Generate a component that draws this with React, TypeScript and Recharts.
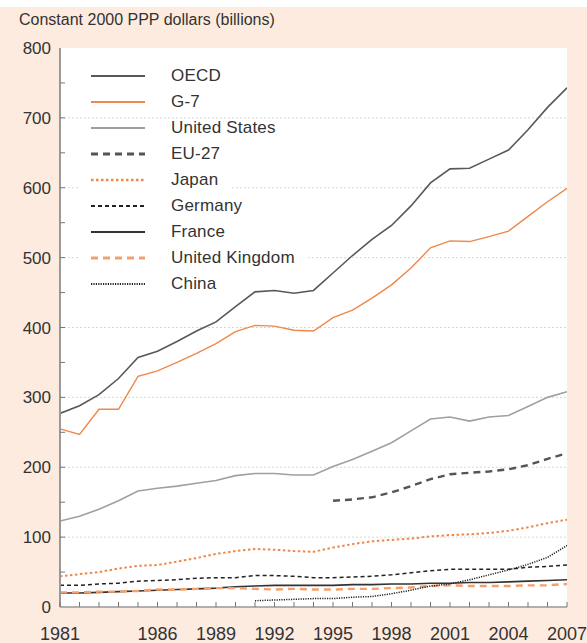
import React from "react";
import {
  LineChart,
  Line,
  XAxis,
  YAxis,
  CartesianGrid,
  ReferenceLine,
  Legend,
} from "recharts";

const years = [
  1981, 1982, 1983, 1984, 1985, 1986, 1987, 1988, 1989, 1990, 1991, 1992, 1993,
  1994, 1995, 1996, 1997, 1998, 1999, 2000, 2001, 2002, 2003, 2004, 2005, 2006,
  2007,
];

const oecd = [
  277, 288, 304, 327, 357, 366, 380, 395, 408, 430, 451, 453, 449, 453, 478,
  503, 526, 546, 574, 607, 627, 628, 641, 654, 683, 715, 743,
];
const g7 = [
  255, 247, 283, 283, 330, 338, 350, 363, 377, 394, 403, 402, 396, 395, 414,
  425, 442, 461, 485, 514, 524, 523, 530, 538, 559, 580, 599,
];
const unitedStates = [
  123, 130, 140, 152, 166, 170, 173, 177, 181, 188, 191, 191, 189, 189, 201,
  211, 223, 235, 252, 269, 272, 266, 272, 274, 287, 300, 308,
];
const eu27 = [
  null, null, null, null, null, null, null, null, null, null, null, null, null,
  null, 152, 154, 157, 164, 173, 183, 190, 192, 194, 197, 203, 212, 220,
];
const japan = [
  44, 47, 50, 55, 59, 60, 65, 70, 76, 80, 83, 82, 80, 79, 85, 90, 94, 96, 98,
  101, 103, 104, 106, 109, 114, 120, 125,
];
const germany = [
  31, 31, 33, 34, 37, 38, 39, 41, 42, 42, 45, 45, 44, 42, 42, 43, 44, 46, 49,
  52, 54, 54, 54, 54, 57, 58, 60,
];
const france = [
  20, 20, 21, 22, 23, 24, 25, 26, 27, 29, 30, 31, 31, 31, 31, 32, 32, 33, 33,
  34, 34, 35, 35, 36, 37, 38, 39,
];
const unitedKingdom = [
  21, 21, 22, 22, 23, 25, 25, 26, 27, 27, 26, 25, 26, 25, 25, 26, 26, 27, 28,
  30, 31, 30, 30, 30, 31, 31, 33,
];
const china = [
  null, null, null, null, null, null, null, null, null, null, 9, 10, 11, 12,
  12, 14, 15, 19, 24, 30, 33, 39, 46, 53, 61, 71, 88,
];

const xLabelYears = [1981, 1986, 1989, 1992, 1995, 1998, 2001, 2004, 2007];
const yTicks = [
  0, 50, 100, 150, 200, 250, 300, 350, 400, 450, 500, 550, 600, 650, 700, 750,
  800,
];
const yLabels = [0, 100, 200, 300, 400, 500, 600, 700, 800];
const gridValues = [100, 200, 300, 400, 500, 600, 700];

const PEACH = "#fdebdf";
const FONT = "'Liberation Sans', Arial, Helvetica, sans-serif";
const TEXT = "#333";
const AXIS = "#999";

const series = [
  { key: "oecd", name: "OECD", data: oecd, color: "#585858", width: 1.6, dash: undefined },
  { key: "g7", name: "G-7", data: g7, color: "#f0874a", width: 1.4, dash: undefined },
  { key: "us", name: "United States", data: unitedStates, color: "#a0a0a0", width: 1.6, dash: undefined },
  { key: "eu27", name: "EU-27", data: eu27, color: "#555", width: 2.4, dash: "7 5" },
  { key: "japan", name: "Japan", data: japan, color: "#f0874a", width: 2, dash: "2.5 2.5" },
  { key: "germany", name: "Germany", data: germany, color: "#222", width: 1.5, dash: "4 3" },
  { key: "france", name: "France", data: france, color: "#333", width: 1.6, dash: undefined },
  { key: "uk", name: "United Kingdom", data: unitedKingdom, color: "#f5a06c", width: 2.4, dash: "7 5" },
  { key: "china", name: "China", data: china, color: "#222", width: 1.5, dash: "1.2 1.2" },
];

const rows = years.map((year, i) => {
  const row: Record<string, number | null> = { year };
  series.forEach((s) => {
    row[s.key] = s.data[i];
  });
  return row;
});

function XTick(props: any) {
  const { x, y, payload } = props;
  const show = xLabelYears.includes(payload.value);
  return (
    <g>
      <line x1={x} x2={x} y1={y} y2={y - 5} stroke="#777" strokeWidth={1} />
      {show && (
        <text
          x={x}
          y={y + 20}
          dy="0.71em"
          textAnchor="middle"
          fill={TEXT}
          fontSize={18}
          fontFamily={FONT}
        >
          {payload.value}
        </text>
      )}
    </g>
  );
}

function LeftTick(props: any) {
  const { x, y, payload } = props;
  const show = yLabels.includes(payload.value);
  return (
    <g>
      {payload.value > 0 && payload.value < 800 && (
        <line x1={x} x2={x + 5} y1={y} y2={y} stroke="#777" strokeWidth={1} />
      )}
      {show && (
        <text
          x={x - 9}
          y={y}
          dy="0.355em"
          textAnchor="end"
          fill={TEXT}
          fontSize={17}
          fontFamily={FONT}
        >
          {payload.value}
        </text>
      )}
    </g>
  );
}

function RightTick(props: any) {
  const { x, y, payload } = props;
  if (payload.value <= 0 || payload.value >= 800) return <g />;
  return <line x1={x} x2={x - 5} y1={y} y2={y} stroke="#777" strokeWidth={1} />;
}

// each row gets its own white patch, so grid lines show between and after rows
function LegendBox() {
  return (
    <div
      style={{
        paddingTop: 3,
        fontFamily: FONT,
        fontSize: 17,
        color: TEXT,
      }}
    >
      {series.map((s) => (
        <div
          key={s.key}
          style={{ display: "flex", alignItems: "center", height: 26 }}
        >
          <div
            style={{
              display: "flex",
              alignItems: "center",
              height: 18,
              background: "#fff",
              padding: "0 12px 0 11px",
            }}
          >
            <svg width={54} height={6} style={{ marginRight: 26 }}>
              <line
                x1={0}
                x2={54}
                y1={3}
                y2={3}
                stroke={s.color}
                strokeWidth={s.width + 0.4}
                strokeDasharray={s.dash}
              />
            </svg>
            <span style={{ whiteSpace: "nowrap", letterSpacing: 0.2 }}>
              {s.name}
            </span>
          </div>
        </div>
      ))}
    </div>
  );
}

export default function App() {
  return (
    <div
      style={{
        position: "relative",
        width: 587,
        height: 643,
        background: "#fff",
        fontFamily: FONT,
        overflow: "hidden",
      }}
    >
      <style>{"body{margin:0}"}</style>
      <div
        style={{
          position: "absolute",
          left: 0,
          top: 7,
          width: 587,
          height: 636,
          background: PEACH,
        }}
      />
      <div
        style={{
          position: "absolute",
          left: 19,
          top: 11,
          fontSize: 16,
          lineHeight: "18px",
          color: TEXT,
          whiteSpace: "nowrap",
        }}
      >
        Constant 2000 PPP dollars (billions)
      </div>
      <div style={{ position: "absolute", left: 0, top: 7 }}>
        <LineChart
          width={587}
          height={636}
          data={rows}
          margin={{ top: 41, right: 20, bottom: 0, left: 0 }}
        >
          <CartesianGrid fill="#fff" horizontal={false} vertical={false} />
          {gridValues.map((v) => (
            <ReferenceLine
              key={v}
              y={v}
              stroke="#d6d6d6"
              strokeDasharray="2 2"
              strokeWidth={1}
            />
          ))}
          <XAxis
            dataKey="year"
            type="number"
            domain={[1981, 2007]}
            ticks={years}
            interval={0}
            height={36}
            tickSize={0}
            tickMargin={0}
            tickLine={false}
            axisLine={{ stroke: AXIS, strokeWidth: 1.5 }}
            tick={(p: any) => <XTick {...p} />}
            allowDataOverflow
          />
          <XAxis
            xAxisId="top"
            orientation="top"
            type="number"
            domain={[1981, 2007]}
            height={0}
            tick={false}
            tickLine={false}
            axisLine={{ stroke: AXIS, strokeWidth: 1.5 }}
            allowDataOverflow
          />
          <YAxis
            type="number"
            domain={[0, 800]}
            ticks={yTicks}
            interval={0}
            width={60}
            tickSize={0}
            tickMargin={0}
            tickLine={false}
            axisLine={{ stroke: AXIS, strokeWidth: 2 }}
            tick={(p: any) => <LeftTick {...p} />}
            allowDataOverflow
          />
          <YAxis
            yAxisId="r"
            orientation="right"
            type="number"
            domain={[0, 800]}
            ticks={yTicks}
            interval={0}
            width={0}
            tickSize={0}
            tickMargin={0}
            tickLine={false}
            axisLine={{ stroke: AXIS, strokeWidth: 1.5 }}
            tick={(p: any) => <RightTick {...p} />}
            allowDataOverflow
          />
          <Legend
            layout="vertical"
            align="center"
            verticalAlign="middle"
            content={() => <LegendBox />}
            wrapperStyle={{
              left: 80,
              top: 53,
              right: "auto",
              bottom: "auto",
              width: 260,
            }}
          />
          {series.map((s) => (
            <Line
              key={s.key}
              dataKey={s.key}
              name={s.name}
              type="linear"
              stroke={s.color}
              strokeWidth={s.width}
              strokeDasharray={s.dash}
              dot={false}
              activeDot={false}
              connectNulls={false}
              isAnimationActive={false}
            />
          ))}
        </LineChart>
      </div>
    </div>
  );
}
